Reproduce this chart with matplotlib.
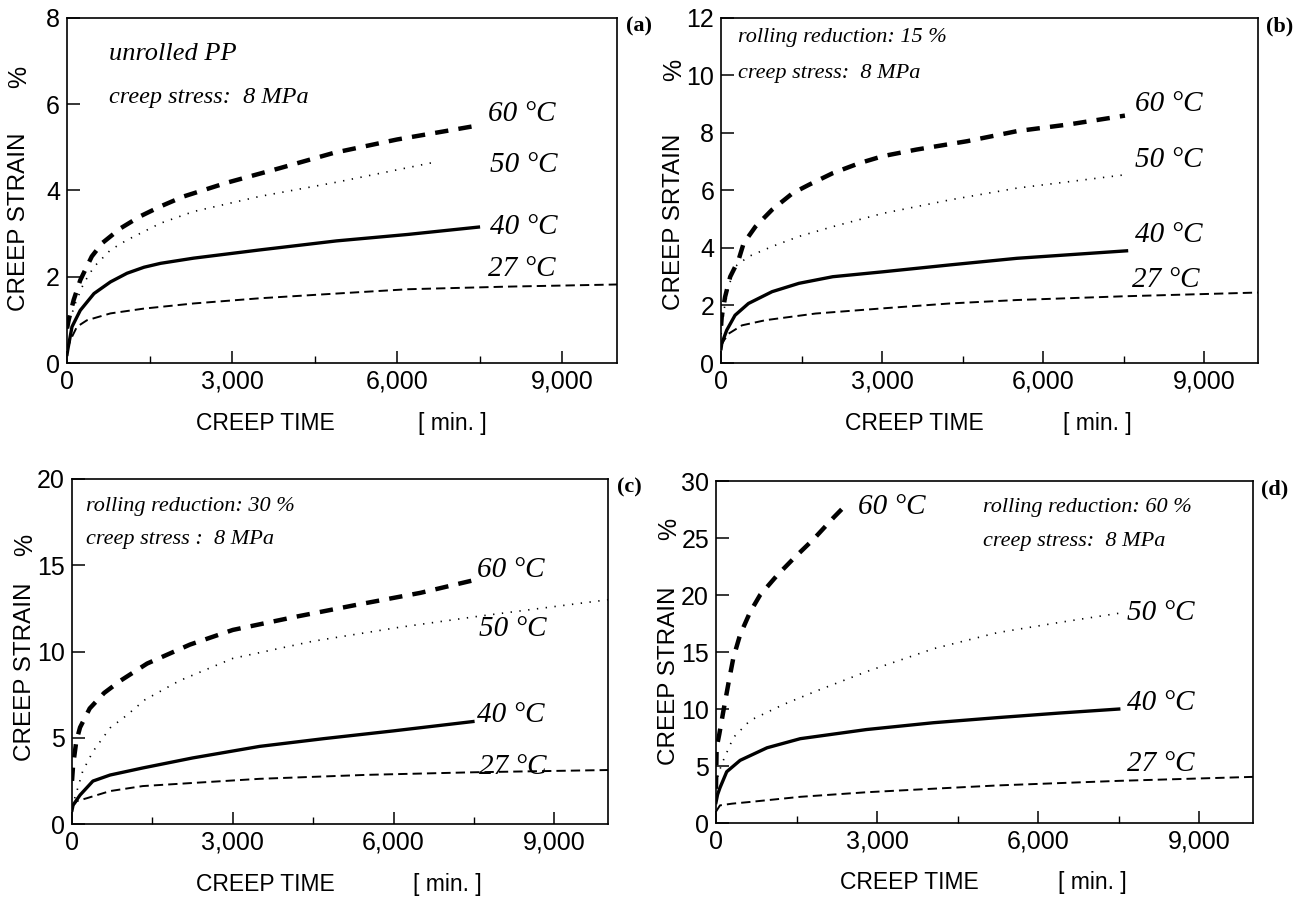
import matplotlib.pyplot as plt
from matplotlib.ticker import MultipleLocator

plt.rcParams['font.family'] = ['Liberation Sans', 'DejaVu Sans']

xticks = [0, 3000, 6000, 9000]
xticklabels = ['0', '3,000', '6,000', '9,000']
temps = ['60 °C', '50 °C', '40 °C', '27 °C']

# (a) unrolled PP
a_t60 = [0, 30, 120, 240, 450, 640, 970, 1330, 1700, 2120, 2910, 3880, 4850, 6000, 7450]
a_s60 = [0.8, 1.0, 1.46, 1.92, 2.47, 2.78, 3.12, 3.40, 3.63, 3.86, 4.18, 4.52, 4.87, 5.18, 5.5]
a_t50 = [0, 150, 300, 490, 790, 1090, 1700, 2300, 3500, 4900, 6630]
a_s50 = [0.8, 1.38, 1.84, 2.23, 2.62, 2.85, 3.24, 3.51, 3.86, 4.19, 4.64]
a_t40 = [0, 12, 90, 240, 490, 790, 1090, 1400, 1700, 2300, 3500, 4900, 6200, 7480]
a_s40 = [0.2, 0.3, 0.84, 1.22, 1.61, 1.88, 2.08, 2.22, 2.31, 2.43, 2.62, 2.83, 2.98, 3.15]
a_t27 = [0, 60, 180, 360, 790, 1390, 2300, 3500, 4900, 6200, 8000, 10000]
a_s27 = [0.3, 0.53, 0.84, 0.99, 1.15, 1.26, 1.38, 1.50, 1.61, 1.71, 1.77, 1.82]

# (b) rolling reduction 15 %
b_t60 = [0, 12, 75, 170, 325, 420, 640, 950, 1330, 1640, 2080, 2580, 3010, 3640, 4580, 5510, 6500, 7520]
b_s60 = [1.3, 1.6, 2.3, 3.0, 3.58, 4.16, 4.74, 5.33, 5.9, 6.2, 6.6, 6.95, 7.19, 7.42, 7.71, 8.06, 8.3, 8.6]
b_t50 = [0, 60, 140, 260, 510, 950, 1450, 2080, 3010, 4260, 5510, 7550]
b_s50 = [1.0, 1.9, 2.65, 3.35, 3.7, 4.05, 4.4, 4.74, 5.2, 5.67, 6.08, 6.55]
b_t40 = [0, 12, 105, 260, 510, 950, 1450, 2080, 3010, 4260, 5510, 7550]
b_s40 = [0.5, 0.67, 1.14, 1.66, 2.07, 2.48, 2.77, 3.0, 3.17, 3.41, 3.64, 3.9]
b_t27 = [0, 40, 140, 390, 830, 1760, 3010, 4260, 5510, 7500, 10000]
b_s27 = [0.6, 0.75, 1.02, 1.31, 1.49, 1.72, 1.9, 2.07, 2.19, 2.32, 2.45]

# (c) rolling reduction 30 %
c_t60 = [0, 20, 80, 150, 330, 600, 900, 1400, 2200, 3000, 4150, 5300, 6500, 7450]
c_s60 = [2.5, 3.4, 4.8, 5.6, 6.7, 7.6, 8.3, 9.3, 10.4, 11.25, 12.0, 12.7, 13.4, 14.1]
c_t50 = [0, 90, 200, 390, 710, 1020, 1360, 2000, 3000, 4500, 6100, 7600, 10000]
c_s50 = [1.0, 1.9, 3.07, 4.2, 5.57, 6.3, 7.2, 8.3, 9.6, 10.6, 11.4, 12.05, 13.0]
c_t40 = [0, 20, 150, 390, 710, 1320, 2250, 3500, 4700, 6000, 7480]
c_s40 = [0.8, 1.1, 1.68, 2.49, 2.84, 3.25, 3.83, 4.5, 4.95, 5.4, 5.94]
c_t27 = [0, 90, 280, 710, 1320, 2250, 3500, 5500, 7500, 10000]
c_s27 = [1.0, 1.33, 1.5, 1.91, 2.2, 2.38, 2.62, 2.85, 3.0, 3.13]

# (d) rolling reduction 60 %
d_t60 = [0, 12, 62, 137, 230, 324, 448, 635, 821, 1133, 1444, 1817, 2190, 2440]
d_s60 = [3.0, 6.6, 7.8, 9.8, 12.2, 14.5, 16.5, 18.5, 20.0, 21.7, 23.2, 24.9, 26.8, 28.0]
d_t50 = [0, 40, 137, 324, 635, 1257, 1879, 2813, 4057, 5240, 6400, 7500]
d_s50 = [2.5, 4.3, 5.5, 7.5, 9.0, 10.4, 11.6, 13.3, 15.3, 16.7, 17.6, 18.4]
d_t40 = [0, 30, 75, 200, 450, 950, 1570, 2800, 4050, 5250, 6400, 7500]
d_s40 = [1.8, 2.5, 3.1, 4.5, 5.5, 6.6, 7.4, 8.2, 8.8, 9.25, 9.65, 10.0]
d_t27 = [0, 75, 300, 635, 1570, 2800, 4000, 5250, 7500, 10000]
d_s27 = [1.0, 1.55, 1.7, 1.85, 2.3, 2.7, 3.0, 3.3, 3.7, 4.05]

styles = [
    dict(lw=3.2, dashes=(3.0, 2.3)),
    dict(lw=1.2, dashes=(0.8, 4.5)),
    dict(lw=2.4, ls='-'),
    dict(lw=1.4, dashes=(4.8, 2.6)),
]

serif_it = dict(family=['Liberation Serif', 'DejaVu Serif'], style='italic')


def draw_panel(ax, curves, ymax, ystep, ylabel, letter, label_pos, notes,
               ylab_y, pct_y):
    for (t, s), st in zip(curves, styles):
        ax.plot(t, s, color='black', **st)
    for name, (x, y) in zip(temps, label_pos):
        ax.text(x, y, name, fontsize=21, va='center', ha='left', **serif_it)
    for txt, x, y, fs in notes:
        ax.text(x, y, txt, fontsize=fs, va='center', ha='left', **serif_it)

    ax.set_xlim(0, 10000)
    ax.set_ylim(0, ymax)
    ax.set_xticks(xticks)
    ax.set_xticklabels(xticklabels)
    ax.xaxis.set_minor_locator(MultipleLocator(1500))
    ax.yaxis.set_major_locator(MultipleLocator(ystep))
    ax.tick_params(direction='in', length=9, width=1.1, labelsize=18, pad=5)
    ax.tick_params(which='minor', direction='in', length=5, width=1.0)
    for sp in ax.spines.values():
        sp.set_linewidth(1.2)

    ax.text(-0.088, ylab_y, ylabel, transform=ax.transAxes, rotation=90,
            fontsize=17.5, ha='center', va='center')
    ax.text(-0.088, pct_y, '%', transform=ax.transAxes, rotation=90,
            fontsize=18, ha='center', va='center')
    ax.text(0.36, -0.175, 'CREEP TIME', transform=ax.transAxes,
            fontsize=16.5, ha='center', va='center')
    ax.text(0.70, -0.175, '[ min. ]', transform=ax.transAxes,
            fontsize=16.5, ha='center', va='center')
    ax.text(1.04, 0.975, letter, transform=ax.transAxes, fontsize=16,
            fontweight='bold', ha='center', va='center',
            family=['Liberation Serif', 'DejaVu Serif'])


fig = plt.figure(figsize=(13.07, 8.99), dpi=100)
ax_a = fig.add_axes([0.0513, 0.5962, 0.4208, 0.384])
ax_b = fig.add_axes([0.5517, 0.5962, 0.4109, 0.384])
ax_c = fig.add_axes([0.0551, 0.0834, 0.4101, 0.3838])
ax_d = fig.add_axes([0.5478, 0.0845, 0.4109, 0.3804])

draw_panel(ax_a, [(a_t60, a_s60), (a_t50, a_s50), (a_t40, a_s40), (a_t27, a_s27)],
           8, 2, 'CREEP STRAIN', '(a)',
           [(7650, 5.77), (7690, 4.6), (7690, 3.16), (7650, 2.17)],
           [('unrolled PP', 760, 7.15, 19), ('creep stress:  8 MPa', 760, 6.15, 17.5)],
           0.41, 0.83)
draw_panel(ax_b, [(b_t60, b_s60), (b_t50, b_s50), (b_t40, b_s40), (b_t27, b_s27)],
           12, 2, 'CREEP SRTAIN', '(b)',
           [(7705, 8.99), (7705, 7.07), (7705, 4.45), (7650, 2.88)],
           [('rolling reduction: 15 %', 310, 11.3, 16), ('creep stress:  8 MPa', 310, 10.05, 16)],
           0.41, 0.85)
draw_panel(ax_c, [(c_t60, c_s60), (c_t50, c_s50), (c_t40, c_s40), (c_t27, c_s27)],
           20, 5, 'CREEP STRAIN', '(c)',
           [(7550, 14.7), (7600, 11.3), (7550, 6.3), (7600, 3.3)],
           [('rolling reduction: 30 %', 270, 18.4, 16), ('creep stress :  8 MPa', 270, 16.5, 16)],
           0.44, 0.81)
draw_panel(ax_d, [(d_t60, d_s60), (d_t50, d_s50), (d_t40, d_s40), (d_t27, d_s27)],
           30, 5, 'CREEP STRAIN', '(d)',
           [(2650, 27.7), (7650, 18.4), (7650, 10.5), (7650, 5.2)],
           [('rolling reduction: 60 %', 4970, 27.7, 16), ('creep stress:  8 MPa', 4970, 24.7, 16)],
           0.43, 0.86)

fig.savefig('out.png', dpi=100)
